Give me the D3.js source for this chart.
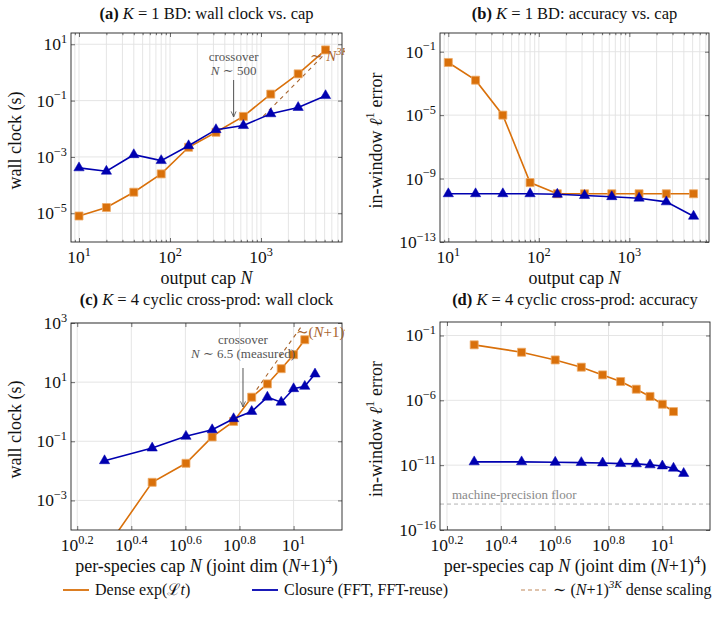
<!DOCTYPE html>
<html>
<head>
<meta charset="utf-8">
<script src="https://cdn.jsdelivr.net/npm/d3@7"></script>
<style>
  body { margin: 0; background: #fff; }
  svg text { font-family: "Liberation Serif", "DejaVu Serif", serif; fill: #111; }
</style>
</head>
<body>
<div id="app"></div>
<script>
// ---- data ----
// K = 1 birth-death, output cap N
const capK1 = [10, 20, 40, 80, 160, 320, 640, 1280, 2560, 5120];
const wallDenseK1 = [8e-6, 1.6e-5, 5.6e-5, 2.5e-4, 2.2e-3, 7.5e-3, 0.0275, 0.17, 0.89, 6.3];
const wallClosureK1 = [4.1e-4, 3.1e-4, 1.2e-3, 7.4e-4, 2.5e-3, 9.3e-3, 0.013, 0.034, 0.057, 0.15];
const errDenseK1 = [0.021, 1.6e-3, 1e-5, 5.6e-10, 1.1e-10, 1.1e-10, 1.1e-10, 1.1e-10, 1.1e-10, 1.1e-10];
const errClosureK1 = [1.1e-10, 1.1e-10, 1.1e-10, 1.1e-10, 1.02e-10, 8.5e-11, 7.2e-11, 5.8e-11, 3.4e-11, 4.2e-12];
const refNK1 = [1060, 5120];      // ~N^3K guide, end points
const refTK1 = [0.028, 4.8];
const crossK1 = 500;

// K = 4 cyclic cross-product, per-species cap N
const capDenseK4 = [2, 3, 4, 5, 6, 7, 8, 9, 10, 11];
const capClosureK4 = [2, 3, 4, 5, 6, 7, 8, 9, 10, 11, 12];
const wallDenseK4 = [2e-5, 4.1e-3, 0.018, 0.14, 0.47, 3.1, 8.7, 28.5, 85, 272];
const wallClosureK4 = [0.022, 0.059, 0.147, 0.245, 0.58, 1.02, 3.1, 2.1, 6.0, 7.2, 18.8];
const errDenseK4 = [0.019, 5.1e-3, 1.3e-3, 3.6e-4, 9.1e-5, 2.8e-5, 7.2e-6, 2e-6, 5e-7, 1.35e-7];
const errClosureK4 = [1.8e-11, 1.8e-11, 1.66e-11, 1.58e-11, 1.48e-11, 1.32e-11, 1.26e-11, 1.05e-11, 8.7e-12, 5.8e-12, 2.3e-12];
const refNK4 = [7.3, 10.7];
const refTK4 = [5.6, 780];
const crossK4 = 6.5;
const machineFloor = 1e-14;

// tick exponents (labels are 10^exp)
const xTicksK1 = [1, 2, 3];
const yTicksWallK1 = [1, -1, -3, -5];
const yTicksErrK1 = [-1, -5, -9, -13];
const xTicksK4 = ["0.2", "0.4", "0.6", "0.8", "1"];
const yTicksWallK4 = [3, 1, -1, -3];
const yTicksErrK4 = [-1, -6, -11, -16];

const ORANGE = "#d9700a", BLUE = "#0000b0", REF = "#a8642c", GRAY = "#555";
const W = 722, H = 636;
const FS_TICK = 17.5, FS_LABEL = 18, FS_TITLE = 16.5, FS_LEG = 16, FS_NOTE = 13;

const svg = d3.select("#app").append("svg").attr("width", W).attr("height", H);
const defs = svg.append("defs");
defs.append("marker").attr("id", "arrow").attr("viewBox", "0 0 10 10")
    .attr("refX", 9).attr("refY", 5).attr("markerWidth", 7).attr("markerHeight", 7)
    .attr("orient", "auto")
  .append("path").attr("d", "M1,1.5 L9,5 L1,8.5").attr("fill", "none")
    .attr("stroke", GRAY).attr("stroke-width", 1.2);

// write text made of pieces: [str, style] with style '', 'b', 'i', 'sup', 'isup'
function rich(t, parts, fs) {
    let raised = false;
    parts.forEach(p => {
        const s = t.append("tspan").text(p[0]);
        const st = p[1] || "";
        if (st.includes("b")) s.attr("font-weight", "bold");
        if (st.startsWith("i")) s.attr("font-style", "italic");
        if (st.includes("sup")) {
            s.attr("font-size", fs * 0.7);
            if (!raised) { s.attr("dy", -fs * 0.42); raised = true; }
        } else if (raised) {
            s.attr("dy", fs * 0.42); raised = false;
        }
    });
    return t;
}

const pow = e => Math.pow(10, +e);
const expLabel = e => [["10", ""], [(+e < 0 ? "\u2212" + Math.abs(e) : String(e)), "sup"]];

function panel(cfg) {
    const b = cfg.box;
    const x = d3.scaleLog().domain(cfg.xDom.map(pow)).range([b.x0, b.x1]);
    const y = d3.scaleLog().domain(cfg.yDom.map(pow)).range([b.y1, b.y0]);
    const g = svg.append("g");
    const cid = "clip" + cfg.id;
    defs.append("clipPath").attr("id", cid).append("rect")
        .attr("x", b.x0).attr("y", b.y0).attr("width", b.x1 - b.x0).attr("height", b.y1 - b.y0);

    const xMajor = cfg.xTicks.map(pow);
    const yMajor = cfg.yTicks.map(pow);
    let xMinor = [];
    if (cfg.minorX) {
        const [lo, hi] = x.domain();
        for (let k = Math.floor(Math.log10(lo)); k <= Math.ceil(Math.log10(hi)); k++)
            for (let m = 2; m <= 9; m++) {
                const v = m * Math.pow(10, k);
                if (v > lo && v < hi) xMinor.push(v);
            }
    }

    // grid
    const grid = g.append("g").attr("stroke", "#e2e2e2").attr("stroke-width", 0.9);
    grid.selectAll(".vx").data(xMinor.concat(xMajor)).enter().append("line")
        .attr("x1", d => x(d)).attr("x2", d => x(d)).attr("y1", b.y0).attr("y2", b.y1);
    grid.selectAll(".hy").data(yMajor).enter().append("line")
        .attr("y1", d => y(d)).attr("y2", d => y(d)).attr("x1", b.x0).attr("x2", b.x1);

    // tick marks on all four sides, pointing inward
    const tickStyle = s => s.call(a => a.select(".domain").remove())
        .selectAll("line").attr("stroke", "#333").attr("stroke-width", 0.7);
    const addAxis = (gen, tx, ty) => g.append("g").attr("transform", `translate(${tx},${ty})`).call(gen).call(tickStyle);
    addAxis(d3.axisBottom(x).tickValues(xMajor).tickSize(-4).tickFormat(""), 0, b.y1);
    addAxis(d3.axisTop(x).tickValues(xMajor).tickSize(-4).tickFormat(""), 0, b.y0);
    addAxis(d3.axisLeft(y).tickValues(yMajor).tickSize(-4).tickFormat(""), b.x0, 0);
    addAxis(d3.axisRight(y).tickValues(yMajor).tickSize(-4).tickFormat(""), b.x1, 0);
    if (xMinor.length) {
        addAxis(d3.axisBottom(x).tickValues(xMinor).tickSize(-2.2).tickFormat(""), 0, b.y1);
        addAxis(d3.axisTop(x).tickValues(xMinor).tickSize(-2.2).tickFormat(""), 0, b.y0);
    }

    // tick labels
    cfg.xTicks.forEach(e => {
        rich(g.append("text").attr("x", x(pow(e))).attr("y", b.y1 + 21).attr("text-anchor", "middle")
            .attr("font-size", FS_TICK), expLabel(e), FS_TICK);
    });
    cfg.yTicks.forEach(e => {
        rich(g.append("text").attr("x", b.x0 - 4).attr("y", y(pow(e)) + 6).attr("text-anchor", "end")
            .attr("font-size", FS_TICK), expLabel(e), FS_TICK);
    });

    // extra annotations under the series
    if (cfg.floor) {
        g.append("line").attr("x1", b.x0).attr("x2", b.x1)
            .attr("y1", y(cfg.floor)).attr("y2", y(cfg.floor))
            .attr("stroke", "#aaa").attr("stroke-width", 0.9).attr("stroke-dasharray", "4,3");
        g.append("text").attr("x", b.x0 + 12).attr("y", y(cfg.floor) - 5)
            .attr("font-size", FS_NOTE).style("fill", "#888").text("machine-precision floor");
    }
    if (cfg.ref) {
        g.append("path").attr("clip-path", `url(#${cid})`)
            .attr("d", d3.line().x(d => x(d[0])).y(d => y(d[1]))(d3.zip(cfg.ref.n, cfg.ref.t)))
            .attr("fill", "none").attr("stroke", REF).attr("stroke-width", 1.1).attr("stroke-dasharray", "4,4");
    }

    // series
    const line = d3.line().x(d => x(d[0])).y(d => y(d[1]));
    cfg.series.forEach(s => {
        const pts = d3.zip(s.n, s.v);
        const sg = g.append("g").attr("clip-path", `url(#${cid})`);
        sg.append("path").attr("d", line(pts)).attr("fill", "none")
            .attr("stroke", s.color).attr("stroke-width", 1.6);
        sg.selectAll("path.m").data(pts).enter().append("path").attr("class", "m")
            .attr("transform", d => `translate(${x(d[0])},${y(d[1])})`)
            .attr("d", d3.symbol(s.mark === "sq" ? d3.symbolSquare : d3.symbolTriangle, s.mark === "sq" ? 64 : 46))
            .attr("fill", s.color).attr("stroke", s.mark === "sq" ? "#eeaa66" : s.color)
            .attr("stroke-width", s.mark === "sq" ? 0.8 : 0.5);
    });

    // box
    g.append("rect").attr("x", b.x0).attr("y", b.y0).attr("width", b.x1 - b.x0).attr("height", b.y1 - b.y0)
        .attr("fill", "none").attr("stroke", "#222").attr("stroke-width", 0.9);

    // guide label, clipped close to the right edge
    if (cfg.ref) {
        const lid = "lab" + cfg.id;
        defs.append("clipPath").attr("id", lid).append("rect")
            .attr("x", b.x0).attr("y", b.y0 - 20).attr("width", b.x1 - b.x0 + 3).attr("height", 80);
        const t = g.append("text").attr("clip-path", `url(#${lid})`)
            .attr("x", cfg.ref.lx).attr("y", cfg.ref.ly).attr("font-size", 15).style("fill", REF);
        rich(t, cfg.ref.label, 15);
    }

    // crossover arrow
    if (cfg.cross) {
        const cx = x(cfg.cross.n);
        const c = cfg.cross;
        g.append("text").attr("x", cx).attr("y", c.ty).attr("text-anchor", "middle")
            .attr("font-size", FS_NOTE).style("fill", GRAY).text("crossover");
        rich(g.append("text").attr("x", cx).attr("y", c.ty + 14).attr("text-anchor", "middle")
            .attr("font-size", FS_NOTE).style("fill", GRAY), c.label, FS_NOTE);
        g.append("line").attr("x1", cx).attr("x2", cx).attr("y1", c.a0).attr("y2", c.a1)
            .attr("stroke", GRAY).attr("stroke-width", 1).attr("marker-end", "url(#arrow)");
    }

    // titles and axis labels
    const mid = (b.x0 + b.x1) / 2;
    rich(g.append("text").attr("x", mid).attr("y", cfg.titleY).attr("text-anchor", "middle")
        .attr("font-size", FS_TITLE), cfg.title, FS_TITLE);
    rich(g.append("text").attr("x", mid).attr("y", b.y1 + 42).attr("text-anchor", "middle")
        .attr("font-size", FS_LABEL), cfg.xLabel, FS_LABEL);
    rich(g.append("text").attr("transform", `translate(${cfg.yLabelX},${(b.y0 + b.y1) / 2 + 3}) rotate(-90)`)
        .attr("text-anchor", "middle").attr("font-size", FS_LABEL), cfg.yLabel, FS_LABEL);
}

const xLabelK1 = [["output cap ", ""], ["N", "i"]];
const xLabelK4 = [["per-species cap ", ""], ["N", "i"], [" (joint dim (", ""], ["N", "i"], ["+1)", ""], ["4", "sup"], [")", ""]];
const yLabelWall = [["wall clock (s)", ""]];
const yLabelErr = [["in-window ", ""], ["\u2113", "i"], ["1", "sup"], [" error", ""]];

panel({
    id: "a", box: { x0: 71, x1: 342, y0: 33, y1: 242 }, titleY: 19,
    xDom: [0.912, 3.89], yDom: [-6.02, 1.4], minorX: true,
    xTicks: xTicksK1, yTicks: yTicksWallK1,
    title: [["(a)", "b"], [" ", ""], ["K", "i"], [" = 1 BD: wall clock vs. cap", ""]],
    xLabel: xLabelK1, yLabel: yLabelWall, yLabelX: 21,
    series: [
        { n: capK1, v: wallDenseK1, color: ORANGE, mark: "sq" },
        { n: capK1, v: wallClosureK1, color: BLUE, mark: "tri" }
    ],
    ref: { n: refNK1, t: refTK1, lx: 310, ly: 61, label: [["\u223C ", ""], ["N", "i"], ["3K", "isup"]] },
    cross: { n: crossK1, ty: 61, a0: 80, a1: 117, label: [["N", "i"], [" \u223C 500", ""]] }
});

panel({
    id: "b", box: { x0: 440, x1: 709, y0: 33, y1: 242 }, titleY: 19,
    xDom: [0.908, 3.88], yDom: [-13, 0.18], minorX: true,
    xTicks: xTicksK1, yTicks: yTicksErrK1,
    title: [["(b)", "b"], [" ", ""], ["K", "i"], [" = 1 BD: accuracy vs. cap", ""]],
    xLabel: xLabelK1, yLabel: yLabelErr, yLabelX: 382,
    series: [
        { n: capK1, v: errDenseK1, color: ORANGE, mark: "sq" },
        { n: capK1, v: errClosureK1, color: BLUE, mark: "tri" }
    ]
});

panel({
    id: "c", box: { x0: 71, x1: 342, y0: 323, y1: 530 }, titleY: 305,
    xDom: [0.177, 1.179], yDom: [-4, 3], minorX: false,
    xTicks: xTicksK4, yTicks: yTicksWallK4,
    title: [["(c)", "b"], [" ", ""], ["K", "i"], [" = 4 cyclic cross-prod: wall clock", ""]],
    xLabel: xLabelK4, yLabel: yLabelWall, yLabelX: 21,
    series: [
        { n: capDenseK4, v: wallDenseK4, color: ORANGE, mark: "sq" },
        { n: capClosureK4, v: wallClosureK4, color: BLUE, mark: "tri" }
    ],
    ref: { n: refNK4, t: refTK4, lx: 296, ly: 337, label: [["\u223C(", ""], ["N", "i"], ["+1)", ""], ["3K", "isup"]] },
    cross: { n: crossK4, ty: 344, a0: 368, a1: 407, label: [["N", "i"], [" \u223C 6.5 (measured)", ""]] }
});

panel({
    id: "d", box: { x0: 440, x1: 710, y0: 322, y1: 530 }, titleY: 305,
    xDom: [0.174, 1.177], yDom: [-16, 0.04], minorX: false,
    xTicks: xTicksK4, yTicks: yTicksErrK4,
    title: [["(d)", "b"], [" ", ""], ["K", "i"], [" = 4 cyclic cross-prod: accuracy", ""]],
    xLabel: xLabelK4, yLabel: yLabelErr, yLabelX: 382,
    series: [
        { n: capDenseK4, v: errDenseK4, color: ORANGE, mark: "sq" },
        { n: capClosureK4, v: errClosureK4, color: BLUE, mark: "tri" }
    ],
    floor: machineFloor
});

// legend
const legend = svg.append("g").attr("transform", "translate(0,590)");
const legendItems = [
    { x: 63, color: ORANGE, dash: null, label: [["Dense exp(", ""], ["\u2112", ""], ["t", "i"], [")", ""]] },
    { x: 252, color: BLUE, dash: null, label: [["Closure (FFT, FFT-reuse)", ""]] },
    { x: 521, color: "#c0875a", dash: "4,3", label: [["\u223C (", ""], ["N", "i"], ["+1)", ""], ["3K", "isup"], [" dense scaling", ""]] }
];
legendItems.forEach(it => {
    legend.append("line").attr("x1", it.x).attr("x2", it.x + 26).attr("y1", 0).attr("y2", 0)
        .attr("stroke", it.color).attr("stroke-width", it.dash ? 1.1 : 1.8)
        .attr("stroke-dasharray", it.dash);
    rich(legend.append("text").attr("x", it.x + 32).attr("y", 5).attr("font-size", FS_LEG), it.label, FS_LEG);
});
</script>
</body>
</html>
